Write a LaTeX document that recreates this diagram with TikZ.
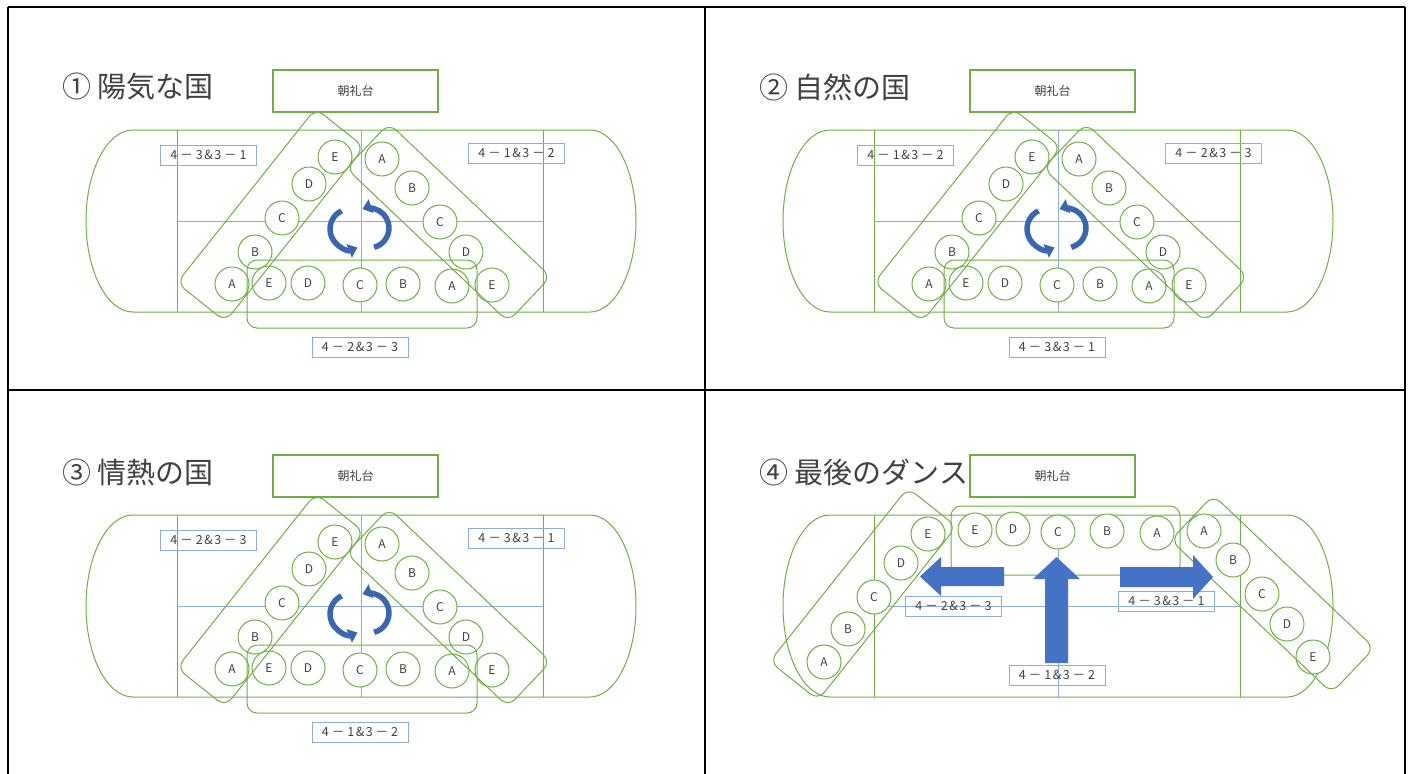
\documentclass[tikz,border=0pt]{standalone}
\usepackage{fontspec}
\setmainfont{Noto Sans CJK JP}
\usetikzlibrary{positioning,arrows.meta,calc}

\definecolor{fieldgreen}{HTML}{70AD47}
\definecolor{crossblue}{HTML}{8FAADC}
\definecolor{arrowblue}{HTML}{4472C4}
\definecolor{turnblue}{HTML}{3B66AE}
\definecolor{inkgray}{HTML}{404040}

\tikzset{
	student/.style={circle, draw=fieldgreen, line width=1pt, fill=white, minimum size=34pt, inner sep=0pt, text=inkgray, font=\fontsize{12}{12}\selectfont},
	group/.style={draw=fieldgreen, line width=1pt, rounded corners=10pt, inner sep=0pt},
	classtag/.style={draw=crossblue, line width=1pt, minimum width=96pt, minimum height=20pt, inner sep=0pt, text=inkgray, font=\fontsize{12.5}{13}\selectfont},
	stage/.style={draw=fieldgreen, line width=1.3pt, minimum width=165pt, minimum height=42pt, inner sep=0pt, text=inkgray, font=\fontsize{12}{12}\selectfont},
	scenetitle/.style={anchor=west, inner sep=0pt, text=inkgray, font=\fontsize{29}{31}\selectfont},
	turn/.style={draw=turnblue, line width=5.5pt, -{Triangle[width=14pt,length=9pt]}},
	bigarrow/.style={fill=arrowblue},
}

% class pair label: 4-#1 & 3-#2
\newcommand{\classpair}[2]{4\kern3pt－\kern3pt#1\kern1.5pt\&\kern1.5pt3\kern3pt－\kern3pt#2}

% field and its centre lines, the same in every scene
\newcommand{\schoolfield}[1]{%
	\draw[fieldgreen, line width=1pt] (133,130) -- (590,130)
		arc[start angle=-90, end angle=90, x radius=46, y radius=91]
		-- (133,312)
		arc[start angle=90, end angle=270, x radius=47, y radius=91] -- cycle;
	\draw[fieldgreen, line width=1pt] (177,130) -- (177,312) (543,130) -- (543,312);
	\draw[crossblue, line width=1pt] (177,221) -- (543,221) (361,130) -- (361,312);
	\node[stage] (#1-stage) at (355.5,91) {朝礼台};
}

% scenes 1 to 3: two diagonals and one row
\newcommand{\triangleform}[5]{%
	\schoolfield{#1}
	\node[scenetitle] (#1-title) at (62,87) {#2};
	% left diagonal
	\node[student] (#1-la) at (232,284) {A};
	\node[student] (#1-lb) at (255,252) {B};
	\node[student] (#1-lc) at (282,218) {C};
	\node[student] (#1-ld) at (309,184) {D};
	\node[student] (#1-le) at (335,157) {E};
	% right diagonal
	\node[student] (#1-ra) at (382,159) {A};
	\node[student] (#1-rb) at (412,188) {B};
	\node[student] (#1-rc) at (440,222) {C};
	\node[student] (#1-rd) at (466,252) {D};
	\node[student] (#1-re) at (492,285) {E};
	% bottom row
	\node[student] (#1-be) at (269,283) {E};
	\node[student] (#1-bd) at (308,283) {D};
	\node[student] (#1-bc) at (360,285) {C};
	\node[student] (#1-bb) at (403,284) {B};
	\node[student] (#1-ba) at (452,286) {A};
	% groups
	\node[group, minimum width=223pt, minimum height=62pt, rotate=51.5] (#1-lgroup) at (270.5,215) {};
	\node[group, minimum width=223pt, minimum height=62pt, rotate=-43.5] (#1-rgroup) at (448.5,222.5) {};
	\node[group, minimum width=230pt, minimum height=68pt] (#1-bgroup) at (362,294) {};
	% class labels
	\node[classtag] (#1-ltag) at (208.5,155) {#3};
	\node[classtag] (#1-rtag) at (516.5,153) {#4};
	\node[classtag] (#1-btag) at (360,347) {#5};
	% turning arrows
	\coordinate (#1-turnl) at (350,229);
	\coordinate (#1-turnr) at (369,228);
	\draw[turn] ($(#1-turnl)+(-115:20)$) arc[start angle=-115, end angle=-292, radius=20];
	\draw[turn] ($(#1-turnr)+(75:20)$) arc[start angle=75, end angle=-109, radius=20];
}

\begin{document}
\begin{tikzpicture}[x=1pt, y=-1pt]
	\useasboundingbox (0,0) rectangle (1409,774);

	% table lines
	\draw[line width=2pt] (8,7) -- (1405,7) (8,390) -- (1405,390)
		(8,7) -- (8,774) (705,7) -- (705,774) (1405,7) -- (1405,774);

	% scene 1
	\begin{scope}
		\triangleform{s1}{① 陽気な国}{\classpair{3}{1}}{\classpair{1}{2}}{\classpair{2}{3}}
	\end{scope}

	% scene 2
	\begin{scope}[shift={(697,0)}]
		\triangleform{s2}{② 自然の国}{\classpair{1}{2}}{\classpair{2}{3}}{\classpair{3}{1}}
	\end{scope}

	% scene 3
	\begin{scope}[shift={(0,385)}]
		\triangleform{s3}{③ 情熱の国}{\classpair{2}{3}}{\classpair{3}{1}}{\classpair{1}{2}}
	\end{scope}

	% scene 4
	\begin{scope}[shift={(697,385)}]
		\schoolfield{s4}
		\node[scenetitle] (s4-title) at (62,87) {④ 最後のダンス};
		% left diagonal
		\node[student] (s4-la) at (127,277) {A};
		\node[student] (s4-lb) at (151,244) {B};
		\node[student] (s4-lc) at (177,212) {C};
		\node[student] (s4-ld) at (204,178) {D};
		\node[student] (s4-le) at (231,149) {E};
		% top row
		\node[student] (s4-te) at (278,145) {E};
		\node[student] (s4-td) at (316,144) {D};
		\node[student] (s4-tc) at (361,147) {C};
		\node[student] (s4-tb) at (410,146) {B};
		\node[student] (s4-ta) at (460,148) {A};
		% right diagonal
		\node[student] (s4-ra) at (507,146) {A};
		\node[student] (s4-rb) at (536,175) {B};
		\node[student] (s4-rc) at (565,209) {C};
		\node[student] (s4-rd) at (590,239) {D};
		\node[student] (s4-re) at (616,272) {E};
		% groups
		\node[group, minimum width=229pt, minimum height=69pt] (s4-tgroup) at (368.5,155.5) {};
		\node[group, minimum width=222pt, minimum height=62pt, rotate=51.5] (s4-lgroup) at (166,209) {};
		\node[group, minimum width=222pt, minimum height=62pt, rotate=-43.5] (s4-rgroup) at (575.5,209) {};
		% class labels
		\node[classtag] (s4-ltag) at (256.5,221) {\classpair{2}{3}};
		\node[classtag] (s4-rtag) at (469.5,216) {\classpair{3}{1}};
		\node[classtag] (s4-btag) at (360,290) {\classpair{1}{2}};
		% moving arrows
		\fill[bigarrow] (307,182) -- (244,182) -- (244,172) -- (223,191.5) -- (244,211) -- (244,201) -- (307,201) -- cycle;
		\fill[bigarrow] (348,278) -- (348,194) -- (336,194) -- (359.5,172) -- (383,194) -- (371,194) -- (371,278) -- cycle;
		\fill[bigarrow] (423,182) -- (496,182) -- (496,170) -- (516,192) -- (496,214) -- (496,202) -- (423,202) -- cycle;
	\end{scope}
\end{tikzpicture}
\end{document}
